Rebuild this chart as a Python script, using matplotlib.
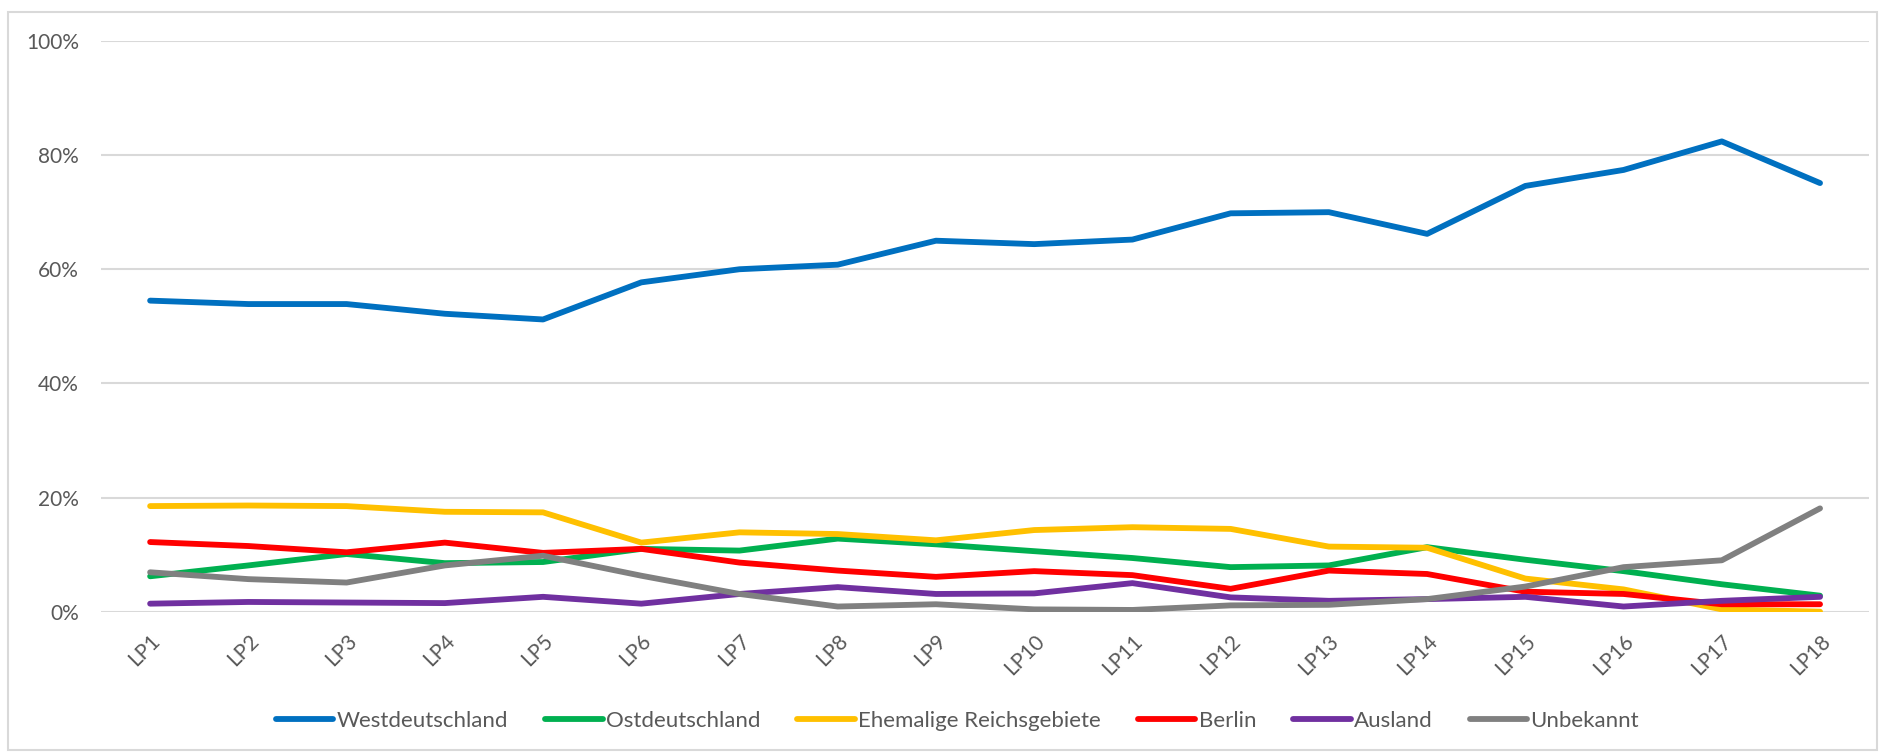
import matplotlib
matplotlib.use('Agg')

import matplotlib.pyplot as plt
from matplotlib.patches import Rectangle
from matplotlib.ticker import PercentFormatter

plt.rcParams['font.family'] = ['Lato', 'DejaVu Sans']

periods = ["LP%d" % i for i in range(1, 19)]

west = [54.5, 53.9, 53.9, 52.2, 51.2, 57.7, 60.0, 60.8, 65.0, 64.4, 65.2, 69.8, 70.0, 66.2, 74.6, 77.4, 82.4, 75.1]
ost = [6.2, 8.1, 10.1, 8.5, 8.7, 11.0, 10.7, 12.8, 11.8, 10.6, 9.4, 7.8, 8.1, 11.3, 9.1, 7.1, 4.8, 2.8]
reich = [18.5, 18.6, 18.5, 17.5, 17.4, 12.1, 13.9, 13.6, 12.5, 14.3, 14.8, 14.5, 11.4, 11.2, 5.8, 3.9, 0.4, 0.0]
berlin = [12.2, 11.5, 10.4, 12.1, 10.3, 11.0, 8.6, 7.2, 6.1, 7.1, 6.4, 4.0, 7.2, 6.6, 3.5, 3.1, 1.3, 1.3]
ausland = [1.4, 1.7, 1.6, 1.5, 2.6, 1.4, 3.1, 4.3, 3.1, 3.2, 5.0, 2.5, 1.9, 2.2, 2.6, 0.9, 1.9, 2.6]
unbekannt = [6.9, 5.7, 5.1, 8.1, 9.8, 6.3, 3.1, 0.9, 1.3, 0.4, 0.3, 1.1, 1.2, 2.2, 4.4, 7.8, 9.0, 18.1]

series = [
    ("Westdeutschland", west, '#0070C0'),
    ("Ostdeutschland", ost, '#00B050'),
    ("Ehemalige Reichsgebiete", reich, '#FFC000'),
    ("Berlin", berlin, '#FF0000'),
    ("Ausland", ausland, '#7030A0'),
    ("Unbekannt", unbekannt, '#808080'),
]

fig = plt.figure(figsize=(18.81, 7.53), dpi=100)
ax = fig.add_axes([0.0537, 0.1877, 0.94, 0.7579])

x = list(range(len(periods)))
for name, vals, col in series:
    ax.plot(x, vals, color=col, linewidth=4.2, label=name, solid_capstyle='round')

ax.set_ylim(0, 100)
ax.set_xlim(-0.5, len(periods) - 0.5)
ax.set_yticks([0, 20, 40, 60, 80, 100])
ax.yaxis.set_major_formatter(PercentFormatter(decimals=0))
ax.set_xticks(x)
ax.set_xticklabels(periods, rotation=45, ha='right', rotation_mode='anchor')
ax.grid(axis='y', color='#d9d9d9', linewidth=1.5)
ax.set_axisbelow(True)
for s in ax.spines.values():
    s.set_visible(False)
ax.tick_params(axis='both', length=0, labelsize=15, labelcolor='#595959')
ax.tick_params(axis='y', pad=16)
ax.tick_params(axis='x', pad=14)

leg = fig.legend(loc='center', bbox_to_anchor=(0.509, 0.0425), ncol=6, frameon=False,
                 fontsize=16, handlelength=2.6, columnspacing=1.65, handletextpad=0.15)
for t in leg.get_texts():
    t.set_color('#595959')

fig.patches.append(Rectangle((0.0043, 0.004), 0.9936, 0.98, transform=fig.transFigure,
                             fill=False, edgecolor='#d9d9d9', linewidth=1.5))

plt.savefig("out.png")
